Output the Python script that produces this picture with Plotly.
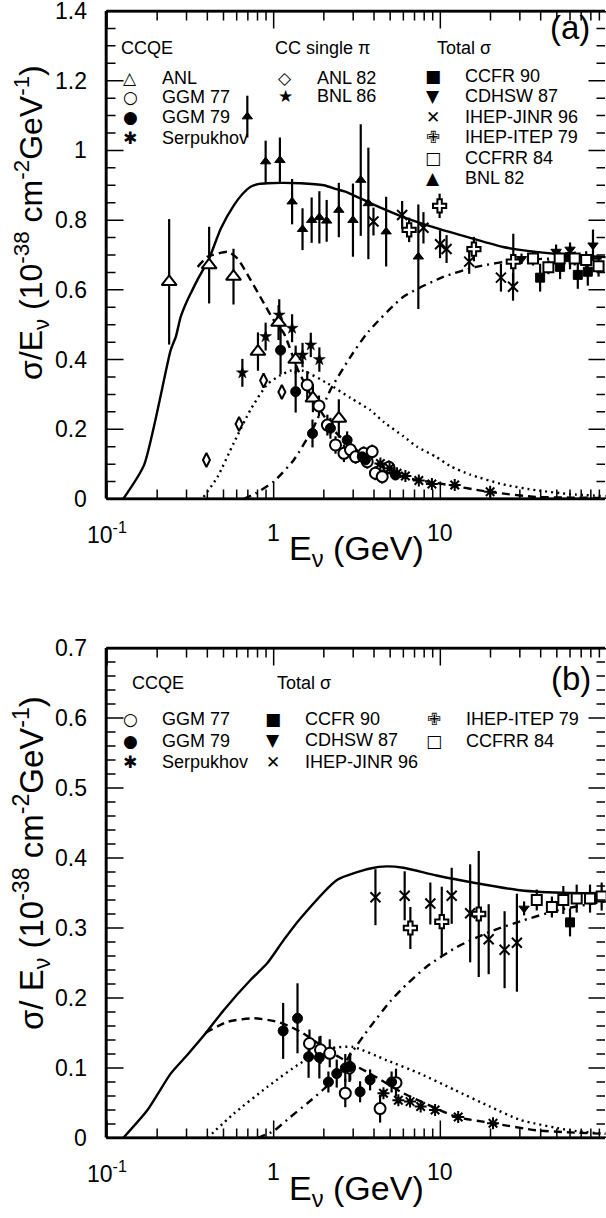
import math
import plotly.graph_objects as go

FONT = "Liberation Sans, Arial, Helvetica, sans-serif"
SYMFONT = "DejaVu Sans, Liberation Sans, sans-serif"

# ---------------- model curves, panel (a) ----------------
tot_a_E = [0.125, 0.167, 0.241, 0.259, 0.277, 0.304, 0.318, 0.35, 0.41, 0.482, 0.578, 0.65, 0.728,
           0.82, 0.917, 1.1, 1.45, 2.0, 2.38, 2.76, 3.8, 6.0, 9.5, 15.1, 23.8, 37.6, 60, 98]
tot_a_y = [0.0, 0.098, 0.427, 0.466, 0.523, 0.571, 0.59, 0.63, 0.69, 0.776, 0.843, 0.875, 0.896,
           0.904, 0.906, 0.907, 0.906, 0.90, 0.889, 0.88, 0.849, 0.809, 0.777, 0.749, 0.723, 0.709, 0.700, 0.694]
qe_a_E = [0.35, 0.40, 0.43, 0.53, 0.606, 0.728, 0.875, 1.0, 1.15, 1.4, 1.74, 2.38, 3.8, 6.0, 9.5, 20, 37.6, 60, 98]
qe_a_y = [0.666, 0.695, 0.70, 0.709, 0.69, 0.628, 0.561, 0.513, 0.476, 0.37, 0.284, 0.189, 0.112, 0.063,
          0.046, 0.02, 0.006, 0.004, 0.003]
pi_a_E = [0.38, 0.46, 0.575, 0.73, 0.92, 1.1, 1.26, 1.5, 2.1, 2.89, 3.8, 4.6, 6.0, 7.25, 9.5, 11.4, 15.1,
          23.8, 37.6, 60, 98]
pi_a_y = [0.006, 0.063, 0.16, 0.258, 0.33, 0.355, 0.368, 0.368, 0.332, 0.29, 0.255, 0.22, 0.18, 0.15,
          0.12, 0.095, 0.07, 0.042, 0.025, 0.014, 0.008]
dis_a_E = [0.66, 0.78, 1.0, 1.32, 1.74, 2.19, 2.89, 3.7, 6.0, 10.4, 16.4, 28.5, 50, 98]
dis_a_y = [0.0, 0.016, 0.05, 0.112, 0.207, 0.313, 0.408, 0.48, 0.58, 0.637, 0.666, 0.685, 0.69, 0.69]

# ---------------- model curves, panel (b) ----------------
tot_b_E = [0.125, 0.175, 0.241, 0.304, 0.383, 0.503, 0.728, 0.917, 1.15, 1.45, 2.41, 3.8, 4.77, 6.0,
           9.5, 16.5, 30, 60, 98]
tot_b_y = [0.0, 0.04, 0.092, 0.119, 0.147, 0.183, 0.226, 0.25, 0.283, 0.314, 0.369, 0.385, 0.388, 0.386,
           0.375, 0.364, 0.354, 0.35, 0.35]
qe_b_E = [0.39, 0.528, 0.762, 1.05, 1.26, 1.49, 2.45, 3.79, 6.0, 9.5, 12.5, 20.8, 37.7, 60, 98]
qe_b_y = [0.15, 0.166, 0.171, 0.166, 0.159, 0.15, 0.116, 0.092, 0.064, 0.042, 0.03, 0.021, 0.011, 0.008, 0.006]
pi_b_E = [0.4, 0.578, 0.917, 1.45, 2.19, 3.0, 4.77, 7.55, 12.1, 19.8, 30, 60, 98]
pi_b_y = [0.0, 0.035, 0.073, 0.107, 0.128, 0.13, 0.111, 0.092, 0.069, 0.045, 0.026, 0.011, 0.006]
dis_b_E = [0.8, 1.0, 1.26, 1.6, 2.0, 2.4, 2.9, 3.8, 5.0, 6.0, 8.3, 12.6, 20, 31.5, 52, 98]
dis_b_y = [0.0, 0.01, 0.03, 0.05, 0.07, 0.09, 0.12, 0.159, 0.195, 0.215, 0.245, 0.273, 0.295, 0.311, 0.326, 0.338]

# ---------------- data, panel (a) ----------------
anl_E = [0.236, 0.41, 0.574, 0.805, 1.07, 1.355, 1.72, 2.46]
anl_y = [0.623, 0.671, 0.638, 0.423, 0.506, 0.40, 0.289, 0.231]
anl_e = [0.18, 0.11, 0.08, 0.055, 0.05, 0.04, 0.04, 0.055]

ggm77a_E = [1.59, 1.87, 2.1, 2.35, 2.64, 2.89, 3.1, 3.47, 3.64, 3.9, 4.08, 4.48, 4.91]
ggm77a_y = [0.327, 0.267, 0.212, 0.155, 0.131, 0.141, 0.121, 0.131, 0.107, 0.136, 0.074, 0.064, 0.091]
ggm77a_e = [0.04, 0.03, 0.03, 0.025, 0.025, 0.025, 0.02, 0.02, 0.02, 0.02, 0.02, 0.02, 0.02]

ggm79a_E = [1.10, 1.355, 1.71, 2.19, 2.76, 3.4, 3.55, 5.38]
ggm79a_y = [0.427, 0.308, 0.188, 0.203, 0.169, 0.121, 0.112, 0.069]
ggm79a_e = [0.07, 0.06, 0.04, 0.03, 0.025, 0.02, 0.02, 0.015]

serpa_E = [4.37, 4.96, 5.5, 6.17, 7.43, 8.9, 12.2, 19.9]
serpa_y = [0.102, 0.088, 0.074, 0.066, 0.053, 0.043, 0.040, 0.021]
serpa_e = [0.008, 0.008, 0.007, 0.007, 0.006, 0.006, 0.005, 0.005]

anl82_E = [0.395, 0.62, 0.87, 1.12]
anl82_y = [0.112, 0.215, 0.34, 0.307]
anl82_e = [0.01, 0.015, 0.02, 0.02]

bnl86_E = [0.649, 0.895, 1.08, 1.29, 1.49, 1.67, 1.88]
bnl86_y = [0.362, 0.466, 0.528, 0.49, 0.413, 0.442, 0.40]
bnl86_e = [0.04, 0.04, 0.045, 0.04, 0.035, 0.035, 0.035]

ccfra_E = [39.7, 52.3, 60, 66.8, 76.7]
ccfra_y = [0.635, 0.666, 0.694, 0.643, 0.652]
ccfra_e = [0.04, 0.035, 0.035, 0.04, 0.04]

cdhswa_E = [30.7, 49.5, 60, 82.4]
cdhswa_y = [0.689, 0.71, 0.716, 0.728]
cdhswa_e = [0.015, 0.02, 0.02, 0.045]

jinra_E = [3.97, 5.9, 7.92, 9.96, 10.9, 14.9, 23.1, 27.3]
jinra_y = [0.796, 0.815, 0.778, 0.731, 0.717, 0.681, 0.635, 0.609]
jinra_e = [0.04, 0.04, 0.045, 0.04, 0.04, 0.035, 0.04, 0.04]

itepa_E = [6.5, 9.9, 15.9, 27.4]
itepa_y = [0.772, 0.841, 0.717, 0.681]
itepa_e = [0.035, 0.035, 0.035, 0.08]

ccfrra_E = [36, 44.5, 52, 64, 75, 89]
ccfrra_y = [0.69, 0.665, 0.69, 0.69, 0.686, 0.668]
ccfrra_e = [0.02, 0.02, 0.02, 0.02, 0.025, 0.03]

bnl82_E = [0.695, 0.895, 1.09, 1.29, 1.49, 1.69, 1.88, 2.08, 2.46, 2.99, 3.33, 3.7, 4.73, 7.38]
bnl82_y = [1.097, 0.968, 0.972, 0.853, 0.774, 0.80, 0.808, 0.798, 0.829, 0.80, 0.915, 0.848, 0.767, 0.695]
bnl82_e = [0.06, 0.06, 0.065, 0.065, 0.06, 0.065, 0.075, 0.06, 0.078, 0.105, 0.16, 0.16, 0.10, 0.15]

# ---------------- data, panel (b) ----------------
ggm77b_E = [1.64, 1.91, 2.17, 2.69, 2.85, 4.35, 5.42]
ggm77b_y = [0.135, 0.126, 0.121, 0.064, 0.10, 0.042, 0.079]
ggm77b_e = [0.02, 0.02, 0.02, 0.02, 0.02, 0.02, 0.02]

ggm79b_E = [1.14, 1.39, 1.62, 1.88, 2.13, 2.39, 2.69, 2.88, 3.3, 3.79, 5.1]
ggm79b_y = [0.153, 0.171, 0.116, 0.115, 0.080, 0.092, 0.10, 0.102, 0.066, 0.083, 0.08]
ggm79b_e = [0.04, 0.05, 0.03, 0.03, 0.015, 0.02, 0.02, 0.02, 0.015, 0.015, 0.015]

serpb_E = [4.56, 5.6, 6.58, 7.62, 9.3, 12.8, 20.7]
serpb_y = [0.064, 0.054, 0.052, 0.045, 0.04, 0.030, 0.021]
serpb_e = [0.005, 0.005, 0.005, 0.004, 0.004, 0.004, 0.003]

ccfrb_E = [60]
ccfrb_y = [0.308]
ccfrb_e = [0.02]

cdhswb_E = [31.8]
cdhswb_y = [0.328]
cdhswb_e = [0.01]

jinrb_E = [4.08, 6.11, 8.71, 11.7, 15.1, 19.5, 24.3, 28.8]
jinrb_y = [0.344, 0.346, 0.335, 0.346, 0.321, 0.284, 0.269, 0.279]
jinrb_e = [0.04, 0.035, 0.03, 0.04, 0.07, 0.05, 0.055, 0.07]

itepb_E = [6.61, 10.2, 17.0]
itepb_y = [0.30, 0.309, 0.32]
itepb_e = [0.03, 0.05, 0.09]

ccfrrb_E = [37.9, 46.7, 54.7, 65.8, 79.1, 92.9]
ccfrrb_y = [0.34, 0.33, 0.34, 0.342, 0.342, 0.345]
ccfrrb_e = [0.015, 0.015, 0.02, 0.02, 0.02, 0.02]

# ---------------- ticks ----------------
x_tickvals = [0.1, 1, 10]
x_ticktext = ["10<sup>-1</sup>", "1", "10"]
x_minor = [0.2, 0.3, 0.4, 0.5, 0.6, 0.7, 0.8, 0.9, 2, 3, 4, 5, 6, 7, 8, 9, 20, 30, 40, 50, 60, 70, 80, 90]
ya_major = [0, 0.2, 0.4, 0.6, 0.8, 1.0, 1.2, 1.4]
ya_minor = [k * 0.05 for k in range(29) if k % 4]
yb_major = [0, 0.1, 0.2, 0.3, 0.4, 0.5, 0.6, 0.7]
yb_minor = [k * 0.02 for k in range(36) if k % 5]

# ---------------- layout geometry (pixels) ----------------
W, H = 606, 1218
L = 106
PW = W - L
XR = [-1.006, 1.994]          # log10 range of the energy axis
YA_MAX, YB_MAX = 1.40001, 0.70001
A_TOP, A_BOT = 11, 499
B_TOP, B_BOT = 648, 1138


def px(x):
    return (x - L) / PW


def py(y):
    return 1 - y / H


def xpaper(v):
    return (math.log10(v) - XR[0]) / (XR[1] - XR[0])


DOM_A = [py(A_BOT), py(A_TOP)]
DOM_B = [py(B_BOT), py(B_TOP)]
PANELS = {"a": ("x", "y", A_TOP, A_BOT, YA_MAX, DOM_A), "b": ("x2", "y2", B_TOP, B_BOT, YB_MAX, DOM_B)}

fig = go.Figure()
ann = []
marks = []     # tick marks / frame drawn as arrow-only annotations


def seg(x, y, ax, ay, w):
    marks.append(dict(text="", x=x, y=y, ax=ax, ay=ay, xref="paper", yref="paper", showarrow=True,
                      arrowhead=0, arrowwidth=w, arrowcolor="black", standoff=0, startstandoff=0,
                      borderpad=0, font=dict(size=1)))


def add_frame(p, ymaj, ymin):
    xa, ya, top, bot, ymax, dom = PANELS[p]
    xl, xr = 10 ** XR[0], 10 ** XR[1]
    # frame line through the axes (left, bottom, top)
    fx = [xl, xl, None, xl, xr, None, xl, xr]
    fy = [0, ymax, None, 0, 0, None, ymax, ymax]
    fig.add_trace(go.Scatter(x=fx, y=fy, mode="lines", line=dict(color="black", width=3),
                             showlegend=False, hoverinfo="skip", cliponaxis=False, xaxis=xa, yaxis=ya))
    seg(1.0, dom[1], -PW, 0, 2.6)
    seg(1.0, dom[0], -PW, 0, 2.6)
    seg(0.0, dom[1], 0, bot - top, 2.6)
    # inward ticks on all four sides
    for vals, ln in [(x_tickvals, 18), (x_minor, 10)]:
        for v in vals:
            xp = xpaper(v)
            seg(xp, dom[0], 0, -ln, 1.5)
            seg(xp, dom[1], 0, ln, 1.5)
    for vals, ln in [(ymaj, 18), (ymin, 10)]:
        for v in vals:
            yp = dom[0] + (dom[1] - dom[0]) * v / ymax
            seg(0.0, yp, ln, 0, 1.5)
            seg(1.0, yp, -ln, 0, 1.5)
    # tick labels placed with the same axis mapping
    for v in ymaj:
        ann.append(dict(text=f"{v:g}", x=px(89), y=dom[0] + (dom[1] - dom[0]) * v / ymax,
                        xanchor="right", font=dict(family=FONT, size=23)))
    ylab = 533 if p == "a" else 1172
    for v, t in zip(x_tickvals, x_ticktext):
        ann.append(dict(text=t, x=xpaper(v), y=py(ylab), font=dict(family=FONT, size=23)))


def add_curve(E, y, dash, p):
    xa, ya = PANELS[p][:2]
    fig.add_trace(go.Scatter(x=E, y=y, mode="lines", showlegend=False, hoverinfo="skip",
                             line=dict(color="black", width=2.4, dash=dash, shape="spline", smoothing=0.6),
                             xaxis=xa, yaxis=ya))


datasets = []


def add_data(E, y, err, name, symbol, size, fill, lw, p, glyph, mx, my):
    datasets.append((E, y, err, name, symbol, size, fill, lw, p))
    ann.append(dict(text=glyph, x=px(mx), y=py(my), font=dict(family=SYMFONT, size=17)))
    ann.append(dict(text=name, x=px(mx + 30), y=py(my), xanchor="left", font=dict(family=FONT, size=18)))


SOLID, DASH, DOT, DASHDOT = "solid", "8px,5px", "2px,4px", "8px,5px,2px,5px"

add_frame("a", ya_major, ya_minor)
add_frame("b", yb_major, yb_minor)

add_curve(tot_a_E, tot_a_y, SOLID, "a")
add_curve(qe_a_E, qe_a_y, DASH, "a")
add_curve(pi_a_E, pi_a_y, DOT, "a")
add_curve(dis_a_E, dis_a_y, DASHDOT, "a")
add_curve(tot_b_E, tot_b_y, SOLID, "b")
add_curve(qe_b_E, qe_b_y, DASH, "b")
add_curve(pi_b_E, pi_b_y, DOT, "b")
add_curve(dis_b_E, dis_b_y, DASHDOT, "b")

# panel (a) data + legend entries
add_data(anl_E, anl_y, anl_e, "ANL", "triangle-up", 13, "white", 2, "a", "△", 130, 78)
add_data(ggm77a_E, ggm77a_y, ggm77a_e, "GGM 77", "circle", 11, "white", 2, "a", "○", 130, 97)
add_data(ggm79a_E, ggm79a_y, ggm79a_e, "GGM 79", "circle", 10, "black", 1, "a", "●", 130, 117)
add_data(serpa_E, serpa_y, serpa_e, "Serpukhov", "asterisk-open", 10, "black", 2, "a", "✱", 130, 138)
add_data(anl82_E, anl82_y, anl82_e, "ANL 82", "diamond-tall", 10, "white", 2, "a", "◇", 285, 78)
add_data(bnl86_E, bnl86_y, bnl86_e, "BNL 86", "star", 9, "black", 0.5, "a", "★", 285, 96)
add_data(ccfra_E, ccfra_y, ccfra_e, "CCFR 90", "square", 9, "black", 1, "a", "■", 433, 76)
add_data(cdhswa_E, cdhswa_y, cdhswa_e, "CDHSW 87", "triangle-down", 9, "black", 1, "a", "▼", 433, 96)
add_data(jinra_E, jinra_y, jinra_e, "IHEP-JINR 96", "x-thin-open", 10, "black", 2, "a", "✕", 433, 117)
add_data(itepa_E, itepa_y, itepa_e, "IHEP-ITEP 79", "cross", 11, "white", 2, "a", "✙", 433, 137)
add_data(ccfrra_E, ccfrra_y, ccfrra_e, "CCFRR 84", "square", 10, "white", 2, "a", "□", 433, 158)
add_data(bnl82_E, bnl82_y, bnl82_e, "BNL 82", "triangle-up", 9, "black", 1, "a", "▲", 433, 178)

# panel (b) data + legend entries
add_data(ggm77b_E, ggm77b_y, ggm77b_e, "GGM 77", "circle", 11, "white", 2, "b", "○", 130, 719)
add_data(ggm79b_E, ggm79b_y, ggm79b_e, "GGM 79", "circle", 10, "black", 1, "b", "●", 130, 741)
add_data(serpb_E, serpb_y, serpb_e, "Serpukhov", "asterisk-open", 10, "black", 2, "b", "✱", 130, 762)
add_data(ccfrb_E, ccfrb_y, ccfrb_e, "CCFR 90", "square", 9, "black", 1, "b", "■", 273, 719)
add_data(cdhswb_E, cdhswb_y, cdhswb_e, "CDHSW 87", "triangle-down", 9, "black", 1, "b", "▼", 273, 740)
add_data(jinrb_E, jinrb_y, jinrb_e, "IHEP-JINR 96", "x-thin-open", 10, "black", 2, "b", "✕", 273, 762)
add_data(itepb_E, itepb_y, itepb_e, "IHEP-ITEP 79", "cross", 11, "white", 2, "b", "✙", 434, 719)
add_data(ccfrrb_E, ccfrrb_y, ccfrrb_e, "CCFRR 84", "square", 10, "white", 2, "b", "□", 434, 741)

# error bars (vertical, no caps) from the data arrays, then markers on top
for p in ("a", "b"):
    xa, ya = PANELS[p][:2]
    bx, by = [], []
    for E, y, err, *_rest in datasets:
        if _rest[-1] != p:
            continue
        for e_, y_, d_ in zip(E, y, err):
            bx += [e_, e_, None]
            by += [y_ - d_, y_ + d_, None]
    fig.add_trace(go.Scatter(x=bx, y=by, mode="lines", line=dict(color="black", width=2.2),
                             showlegend=False, hoverinfo="skip", xaxis=xa, yaxis=ya))
for E, y, err, name, symbol, size, fill, lw, p in datasets:
    xa, ya = PANELS[p][:2]
    fig.add_trace(go.Scatter(x=E, y=y, mode="markers", name=name, showlegend=False, xaxis=xa, yaxis=ya,
                             marker=dict(symbol=symbol, size=size, color=fill,
                                         line=dict(color="black", width=lw))))

ytitle_a = "σ/E<sub>ν</sub> (10<sup>-38</sup> cm<sup>-2</sup>GeV<sup>-1</sup>)"
ytitle_b = "σ/ E<sub>ν</sub> (10<sup>-38</sup> cm<sup>-2</sup>GeV<sup>-1</sup>)"
xtitle = "E<sub>ν</sub> (GeV)"
ann.append(dict(text=ytitle_a, x=px(31), y=py(223), textangle=-90, font=dict(family=FONT, size=32)))
ann.append(dict(text=ytitle_b, x=px(31), y=py(863), textangle=-90, font=dict(family=FONT, size=33)))
ann.append(dict(text=xtitle, x=px(356), y=py(551), font=dict(family=FONT, size=34)))
ann.append(dict(text=xtitle, x=px(356), y=py(1190), font=dict(family=FONT, size=34)))
ann.append(dict(text="(a)", x=px(570), y=py(28), font=dict(family=FONT, size=33)))
ann.append(dict(text="(b)", x=px(571), y=py(678), font=dict(family=FONT, size=33)))
for txt, x, y in [("CCQE", 119, 48), ("CC single π", 273, 48), ("Total σ", 435, 48),
                  ("CCQE", 130, 683), ("Total σ", 275, 683)]:
    ann.append(dict(text=txt, x=px(x), y=py(y), xanchor="left", font=dict(family=FONT, size=18)))
for a in ann:
    a.update(xref="paper", yref="paper", showarrow=False)
    a.setdefault("xanchor", "center")
    a.setdefault("yanchor", "middle")
    a["font"]["color"] = "black"

xcommon = dict(type="log", range=XR, domain=[0, 1], showticklabels=False, ticks="", showline=False,
               showgrid=False, zeroline=False, automargin=False)
ycommon = dict(showticklabels=False, ticks="", showline=False, automargin=False,
               showgrid=False, zeroline=False)

fig.update_layout(
    width=W, height=H, margin=dict(l=L, r=0, t=0, b=0, autoexpand=False),
    paper_bgcolor="white", plot_bgcolor="white", showlegend=False,
    xaxis=dict(anchor="y", **xcommon),
    xaxis2=dict(anchor="y2", **xcommon),
    yaxis=dict(anchor="x", domain=DOM_A, range=[0, YA_MAX], **ycommon),
    yaxis2=dict(anchor="x2", domain=DOM_B, range=[0, YB_MAX], **ycommon),
    annotations=marks + ann, font=dict(family=FONT, color="black"),
)

fig.write_html("out.html")
